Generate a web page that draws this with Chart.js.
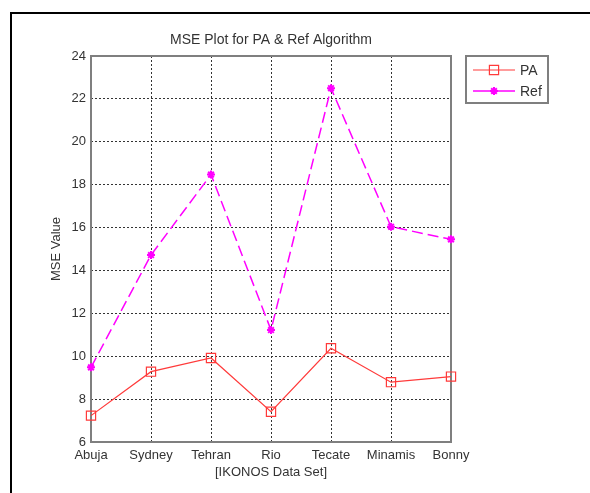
<!DOCTYPE html>
<html lang="en">
<head>
  <meta charset="UTF-8">
  <title>MSE Plot for PA &amp; Ref Algorithm</title>
  <script src="https://cdn.jsdelivr.net/npm/chart.js"></script>
  <style>
    html, body { margin: 0; padding: 0; background: #fff; }
  </style>
</head>
<body>
  <canvas id="mseChart" width="590" height="493"></canvas>

  <script>
    // values
    const categories = ['Abuja', 'Sydney', 'Tehran', 'Rio', 'Tecate', 'Minamis', 'Bonny'];
    const paValues = [7.23, 9.28, 9.92, 7.41, 10.37, 8.79, 9.05];
    const refValues = [9.48, 14.72, 18.47, 11.22, 22.5, 16.04, 15.45];
    const seriesNames = ['PA', 'Ref'];
    const yMin = 6;
    const yMax = 24;
    const yStep = 2;

    const chartTitle = 'MSE Plot for PA & Ref Algorithm';
    const xTitle = '[IKONOS Data Set]';
    const yTitle = 'MSE Value';

    const FONT = '"Liberation Sans", Arial, sans-serif';
    const TEXT = '#333';
    const BOX = '#7f7f7f';

    // outer frame, title, plot box and the legend box (MATLAB style)
    const framePlugin = {
      id: 'frame',
      beforeDraw(chart) {
        const ctx = chart.ctx;
        ctx.save();
        ctx.strokeStyle = '#000';
        ctx.lineWidth = 2;
        ctx.beginPath();
        ctx.moveTo(11, chart.height);
        ctx.lineTo(11, 13);
        ctx.lineTo(chart.width, 13);
        ctx.stroke();
        ctx.restore();
      },
      beforeDatasetsDraw(chart) {
        const { ctx, chartArea: a } = chart;
        ctx.save();
        ctx.strokeStyle = BOX;
        ctx.lineWidth = 2;
        ctx.strokeRect(a.left, a.top, a.right - a.left, a.bottom - a.top);
        ctx.fillStyle = TEXT;
        ctx.font = '14px ' + FONT;
        ctx.textAlign = 'center';
        ctx.textBaseline = 'middle';
        ctx.fillText(chartTitle, (a.left + a.right) / 2, a.top - 16);
        ctx.restore();
      },
      afterDraw(chart) {
        const { ctx, chartArea: a } = chart;
        const x = a.right + 15, y = a.top, w = 82, h = 47;
        ctx.save();
        ctx.fillStyle = '#fff';
        ctx.fillRect(x, y, w, h);
        ctx.strokeStyle = BOX;
        ctx.lineWidth = 2;
        ctx.strokeRect(x, y, w, h);
        ctx.font = '14px ' + FONT;
        ctx.textBaseline = 'middle';
        chart.data.datasets.forEach((ds, i) => {
          const ly = y + 14 + i * 21;
          ctx.strokeStyle = ds.borderColor;
          ctx.lineWidth = ds.borderWidth;
          ctx.setLineDash([]);
          ctx.beginPath();
          ctx.moveTo(x + 7, ly);
          ctx.lineTo(x + 49, ly);
          ctx.stroke();
          ctx.fillStyle = ds.pointBackgroundColor;
          ctx.lineWidth = ds.pointBorderWidth;
          Chart.helpers.drawPoint(ctx, {
            pointStyle: ds.pointStyle,
            radius: ds.pointRadius,
            borderWidth: ds.pointBorderWidth,
            rotation: 0
          }, x + 28, ly);
          ctx.fillStyle = TEXT;
          ctx.fillText(ds.label, x + 54, ly + 1);
        });
        ctx.restore();
      }
    };

    const ctx = document.getElementById('mseChart').getContext('2d');
    new Chart(ctx, {
      type: 'line',
      data: {
        labels: categories,
        datasets: [
          {
            label: seriesNames[0],
            data: paValues,
            borderColor: '#ff3a3a',
            borderWidth: 1.2,
            pointStyle: 'rect',
            pointRadius: 6.5,
            pointBorderWidth: 1.2,
            pointBorderColor: '#ff3a3a',
            pointBackgroundColor: 'rgba(0,0,0,0)',
            tension: 0,
            clip: false
          },
          {
            label: seriesNames[1],
            data: refValues,
            borderColor: '#ff00ff',
            borderWidth: 1.5,
            borderDash: [11, 5],
            pointStyle: 'star',
            pointRadius: 4,
            pointBorderWidth: 2,
            pointBorderColor: '#ff00ff',
            pointBackgroundColor: '#ff00ff',
            tension: 0,
            clip: false
          }
        ]
      },
      options: {
        responsive: false,
        animation: false,
        layout: { padding: { top: 56, right: 139, left: 0, bottom: 0 } },
        plugins: {
          legend: { display: false },
          title: { display: false },
          tooltip: { enabled: false }
        },
        scales: {
          x: {
            type: 'category',
            offset: false,
            grid: { color: '#333', lineWidth: 1, drawTicks: false },
            border: { display: false, dash: [2, 2] },
            ticks: { color: TEXT, font: { family: FONT, size: 13 }, padding: 6, maxRotation: 0, autoSkip: false },
            title: { display: true, text: xTitle, color: TEXT, font: { family: FONT, size: 13 }, padding: { top: 0, bottom: 13 } },
            afterFit(scale) { scale.height = 51; }
          },
          y: {
            min: yMin,
            max: yMax,
            grid: { color: '#333', lineWidth: 1, drawTicks: false },
            border: { display: false, dash: [2, 2] },
            ticks: { stepSize: yStep, color: TEXT, font: { family: FONT, size: 13 }, padding: 5 },
            title: { display: true, text: yTitle, color: TEXT, font: { family: FONT, size: 13 }, padding: { top: 49, bottom: 0 } },
            afterFit(scale) { scale.width = 91; }
          }
        }
      },
      plugins: [framePlugin]
    });
  </script>
</body>
</html>
